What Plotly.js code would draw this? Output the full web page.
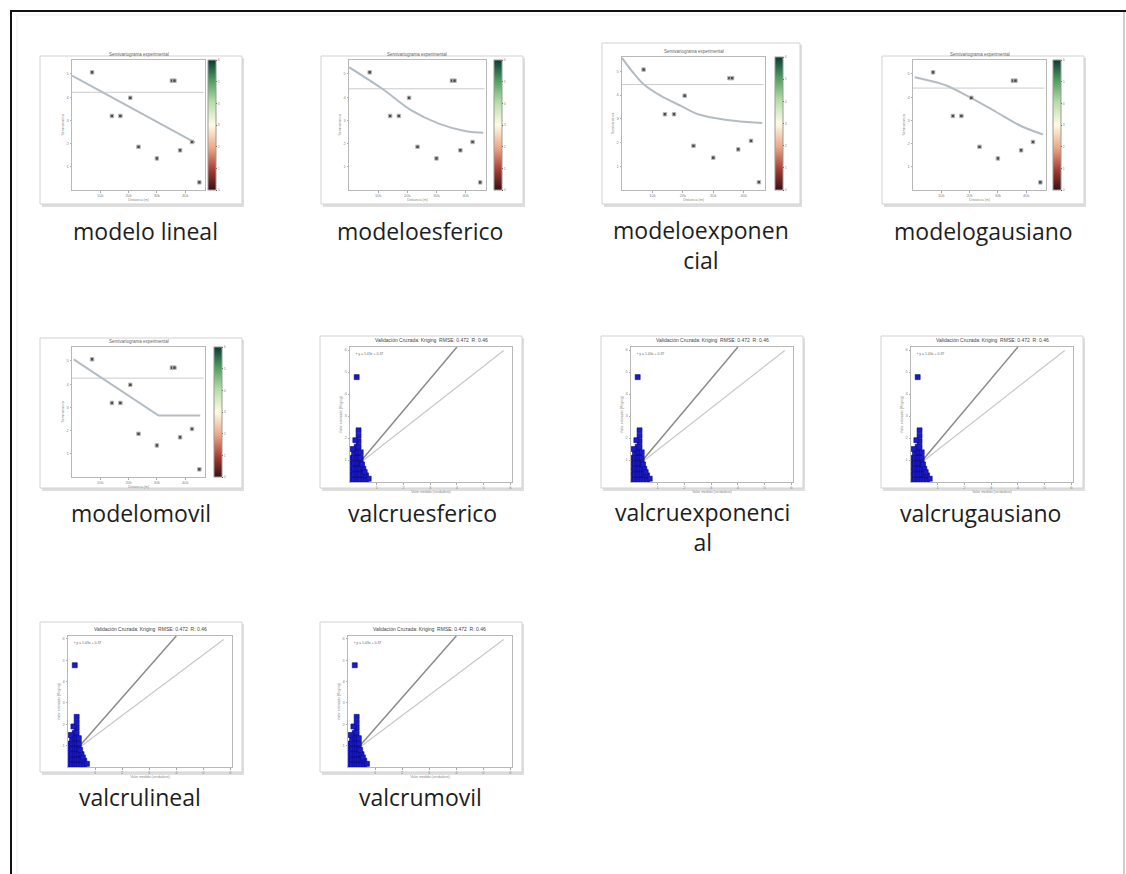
<!DOCTYPE html>
<html>
<head>
<meta charset="utf-8">
<script src="https://cdn.plot.ly/plotly-3.0.1.min.js"></script>
<style>html,body{margin:0;padding:0;background:#fff;}#chart{width:1126px;height:874px;}</style>
</head>
<body>
<div id="chart"></div>
<script>
// ---------- DATA ----------
// experimental semivariogram (same in all five model thumbnails)
const distancia    = [7100, 14100, 17100, 20600, 23500, 30000, 35300, 36200, 38200, 42400, 45000];
const semivarianza = [5.07, 3.19, 3.19, 3.97, 1.86, 1.36, 4.71, 4.71, 1.71, 2.07, 0.33];

// fitted model curves, read from the thumbnails
const linealX      = [0, 43500];
const linealY      = [4.93, 2.04];
const esfericoX    = [0, 11400, 21400, 30800, 40200, 46100];
const esfericoY    = [5.29, 4.36, 3.43, 2.86, 2.53, 2.47];
const exponencialX = [0, 3300, 7200, 12800, 19400, 25000, 33900, 46100];
const exponencialY = [5.56, 5.0, 4.44, 3.96, 3.54, 3.19, 2.96, 2.82];
const gausianoX    = [600, 5900, 11800, 20000, 29400, 37600, 45900];
const gausianoY    = [4.86, 4.71, 4.5, 4.0, 3.36, 2.79, 2.39];
const movilX       = [600, 30600, 45300];
const movilY       = [5.07, 2.65, 2.65];
const meseta       = [4.21, 4.36, 4.44, 4.39, 4.26];   // sill (horizontal line)

// cross-validation scatter (same in the five valcru thumbnails)
const medido   = [0.05,0.05,0.05,0.05,0.05, 0.15,0.15,0.15,0.15,0.15,0.15, 0.25,0.25,0.25,0.25,0.25,0.25,0.25,
                  0.32,0.32,0.32,0.32,0.32,0.32,0.32,0.32,0.32,0.32, 0.4,0.4,0.4,0.4,0.4,0.4, 0.5,0.5,0.5, 0.6,0.6,
                  0.25, 0.1, 0.45, 0.2, 0.7, 0.55];
const estimado = [0.1,0.35,0.6,0.85,1.1, 0.1,0.35,0.6,0.85,1.1,1.35, 0.1,0.35,0.6,0.85,1.1,1.35,1.6,
                  0.1,0.35,0.6,0.85,1.1,1.35,1.6,1.85,2.1,2.35, 0.1,0.35,0.6,0.85,1.1,1.35, 0.1,0.35,0.6, 0.1,0.3,
                  4.77, 1.5, 0.8, 1.9, 0.15, 0.45];
const ajusteX    = [0.3, 4.0];
const ajusteY    = [0.8, 6.14];
const identidadX = [0.3, 5.75];
const identidadY = [0.8, 5.98];

const etiquetas = ['modelo lineal','modeloesferico','modeloexponen<br>cial','modelogausiano',
                   'modelomovil','valcruesferico','valcruexponenci<br>al','valcrugausiano',
                   'valcrulineal','valcrumovil'];
const distTicks = [10000, 20000, 30000, 40000];
const semiTicks = [1, 2, 3, 4, 5];
const valTicks  = [1, 2, 3, 4, 5, 6];
const cbTicks   = [0, 1, 2, 3, 4, 5, 6];

// ---------- LAYOUT (positions in pixels) ----------
const W = 1126, H = 874;
const modelCurves = [[linealX,linealY,'linear'],[esfericoX,esfericoY,'spline'],[exponencialX,exponencialY,'spline'],
                     [gausianoX,gausianoY,'spline'],[movilX,movilY,'linear']];
const panels = [
  {kind:'m', m:0, box:[40,56,242,204],  plot:[72,60,205,190],   cb:208,  label:[145,231]},
  {kind:'m', m:1, box:[321,56,523,204], plot:[349,60,486,190],  cb:494,  label:[420,231]},
  {kind:'m', m:2, box:[602,43,800,204], plot:[622,57,765,190],  cb:775,  label:[701,245]},
  {kind:'m', m:3, box:[882,56,1084,204],plot:[913,60,1046,190], cb:1053, label:[983,231]},
  {kind:'m', m:4, box:[40,338,242,488], plot:[72,347,205,477],  cb:214,  label:[141,513]},
  {kind:'v', box:[320,336,522,488], plot:[350,347,512,482], label:[422,513]},
  {kind:'v', box:[601,336,803,488], plot:[631,347,793,482], label:[702,527]},
  {kind:'v', box:[881,336,1083,488],plot:[911,347,1073,482],label:[980,513]},
  {kind:'v', box:[40,622,242,772], plot:[68,636,232,767], label:[140,797]},
  {kind:'v', box:[320,622,522,772],plot:[348,636,512,767],label:[420,797]}
];
const cscale = [[0,'#3a0f10'],[0.15,'#a23b32'],[0.32,'#eba585'],[0.5,'#fffbe6'],[0.68,'#b2dca6'],[0.85,'#4b9a5e'],[1,'#0c3a32']];

const layout = {
  width: W, height: H, margin:{l:0,r:0,t:0,b:0},
  paper_bgcolor:'#ffffff', plot_bgcolor:'rgba(0,0,0,0)', showlegend:false,
  font:{family:'Liberation Sans, Arial, sans-serif', color:'#777', size:4},
  shapes:[], annotations:[]
};
const traces = [];
const px = v => v / W, py = v => 1 - v / H;

// window frame
layout.shapes.push({type:'line',xref:'paper',yref:'paper',x0:px(11),x1:px(11),y0:py(10),y1:py(874),line:{color:'#111',width:2}});
layout.shapes.push({type:'line',xref:'paper',yref:'paper',x0:px(10),x1:px(1126),y0:py(11),y1:py(11),line:{color:'#111',width:2}});
layout.shapes.push({type:'line',xref:'paper',yref:'paper',x0:px(1124),x1:px(1124),y0:py(12),y1:py(874),line:{color:'#a0a0a0',width:1}});
layout.shapes.push({type:'line',xref:'paper',yref:'paper',x0:px(17),x1:px(1120),y0:py(15),y1:py(15),line:{color:'#ececec',width:1}});
layout.shapes.push({type:'line',xref:'paper',yref:'paper',x0:px(17),x1:px(17),y0:py(15),y1:py(874),line:{color:'#ececec',width:1}});

panels.forEach((p, i) => {
  const n = i + 1;
  const xs = n === 1 ? 'x' : 'x' + n, ys = n === 1 ? 'y' : 'y' + n;
  const xk = n === 1 ? 'xaxis' : 'xaxis' + n, yk = n === 1 ? 'yaxis' : 'yaxis' + n;
  const b = p.box, q = p.plot;
  // thumbnail shadow + card
  layout.shapes.push({type:'rect',layer:'below',xref:'paper',yref:'paper',x0:px(b[0]+2),x1:px(b[2]+2),y0:py(b[3]+3),y1:py(b[1]+2),fillcolor:'#dedede',line:{width:0}});
  layout.shapes.push({type:'rect',layer:'below',xref:'paper',yref:'paper',x0:px(b[0]),x1:px(b[2]),y0:py(b[3]),y1:py(b[1]),fillcolor:'#ffffff',line:{color:'#d2d2d2',width:1}});

  const axBase = {showgrid:false, zeroline:false, showline:true, linecolor:'#b8b8b8', linewidth:1, mirror:true,
                  ticks:'outside', ticklen:1.5, tickcolor:'#aaa', tickfont:{size:4, color:'#888'}, fixedrange:true};
  const isM = p.kind === 'm';
  layout[xk] = Object.assign({}, axBase, {domain:[px(q[0]), px(q[2])], anchor:ys,
      range: isM ? [0, 47000] : [0, 6.06], tickvals: isM ? distTicks : valTicks,
      title:{text: isM ? 'Distancia (m)' : 'Valor medido (verdadero)', font:{size:3.5,color:'#888'}, standoff:1}});
  layout[yk] = Object.assign({}, axBase, {domain:[py(q[3]), py(q[1])], anchor:xs,
      range: isM ? [0, 5.6] : [0, 6.14], tickvals: isM ? semiTicks : valTicks,
      title:{text: isM ? 'Semivarianza' : 'Valor estimado (Kriging)', font:{size:3.5,color:'#888'}, standoff:2}});

  if (isM) {
    const c = modelCurves[p.m];
    traces.push({type:'scatter',mode:'lines',xaxis:xs,yaxis:ys,x:[0,46500],y:[meseta[p.m],meseta[p.m]],
                 line:{color:'#cbcbcb',width:1},hoverinfo:'skip'});
    traces.push({type:'scatter',mode:'lines',xaxis:xs,yaxis:ys,x:c[0],y:c[1],
                 line:{color:'#b4bcc3',width:2,shape:c[2]},hoverinfo:'skip'});
    traces.push({type:'scatter',mode:'markers',xaxis:xs,yaxis:ys,x:distancia,y:semivarianza,
                 marker:{color:'#4a4a4a',size:3.5,symbol:'square',line:{color:'#bbb',width:1}},hoverinfo:'skip'});
    // colorbar
    traces.push({type:'scatter',mode:'markers',xaxis:xs,yaxis:ys,x:[distancia[0]],y:[semivarianza[0]],opacity:0,
                 marker:{color:[0],colorscale:cscale,cmin:0,cmax:6,showscale:true,
                   colorbar:{x:px(p.cb),xanchor:'left',y:py(q[1]),yanchor:'top',len:(q[3]-q[1])/H,lenmode:'fraction',
                             thickness:8,thicknessmode:'pixels',outlinecolor:'#999',outlinewidth:1,
                             tickvals:cbTicks,ticks:'outside',ticklen:1,tickfont:{size:3.5,color:'#888'},xpad:0,ypad:0}},
                 hoverinfo:'skip'});
    layout.annotations.push({xref:'paper',yref:'paper',x:px((q[0]+q[2])/2),y:py(q[1]-1),xanchor:'center',yanchor:'bottom',
                 text:'Semivariograma experimental',showarrow:false,font:{size:4.5,color:'#666'}});
  } else {
    traces.push({type:'scatter',mode:'lines',xaxis:xs,yaxis:ys,x:identidadX,y:identidadY,
                 line:{color:'#c8c8c8',width:1.2},hoverinfo:'skip'});
    traces.push({type:'scatter',mode:'lines',xaxis:xs,yaxis:ys,x:ajusteX,y:ajusteY,
                 line:{color:'#8a8a8a',width:1.5},hoverinfo:'skip'});
    traces.push({type:'scatter',mode:'markers',xaxis:xs,yaxis:ys,x:medido,y:estimado,
                 marker:{color:'#1a1ac8',size:5,symbol:'square',line:{color:'#0a0a80',width:0.6}},hoverinfo:'skip'});
    layout.annotations.push({xref:'paper',yref:'paper',x:px((q[0]+q[2])/2),y:py(q[1]-2),xanchor:'center',yanchor:'bottom',
                 text:'Validación Cruzada: Kriging  RMSE: 0.472  R: 0.46',showarrow:false,font:{size:5,color:'#444'}});
    layout.annotations.push({xref:'paper',yref:'paper',x:px(q[0]+4),y:py(q[1]+3),xanchor:'left',yanchor:'top',
                 text:'▪ y = 1.43x + 0.37',showarrow:false,font:{size:3.5,color:'#666'}});
  }
  // file name label
  layout.annotations.push({xref:'paper',yref:'paper',x:px(p.label[0]),y:py(p.label[1]),xanchor:'center',yanchor:'middle',
      text:etiquetas[i],showarrow:false,align:'center',
      font:{family:'Open Sans, Noto Sans, sans-serif',size:23,color:'#1e1e1e'}});
});

Plotly.newPlot('chart', traces, layout, {staticPlot:true, displayModeBar:false});
</script>
</body>
</html>
